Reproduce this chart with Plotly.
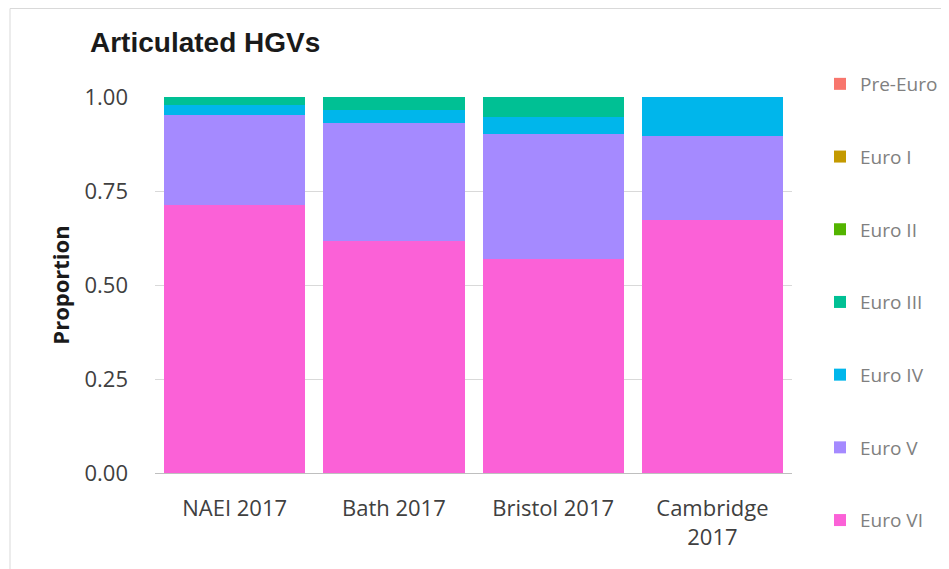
import plotly.graph_objects as go

categories = ["NAEI 2017", "Bath 2017", "Bristol 2017", "Cambridge<br>2017"]
euro_vi = [0.713, 0.617, 0.569, 0.673]
euro_v = [0.239, 0.315, 0.333, 0.224]
euro_iv = [0.027, 0.033, 0.046, 0.103]
euro_iii = [0.021, 0.035, 0.052, 0.0]
euro_ii = [0.0, 0.0, 0.0, 0.0]
euro_i = [0.0, 0.0, 0.0, 0.0]
pre_euro = [0.0, 0.0, 0.0, 0.0]

series = [
    ("Euro VI", euro_vi, "#FB61D7"),
    ("Euro V", euro_v, "#A58AFF"),
    ("Euro IV", euro_iv, "#00B6EB"),
    ("Euro III", euro_iii, "#00C094"),
    ("Euro II", euro_ii, "#53B400"),
    ("Euro I", euro_i, "#C49A00"),
    ("Pre-Euro", pre_euro, "#F8766D"),
]

fig = go.Figure()
n = len(series)
for i, (name, vals, col) in enumerate(series):
    fig.add_trace(go.Bar(x=categories, y=vals, name=name, marker_color=col,
                         marker_line_width=0, legendgroup=name, legendrank=n - i))

# page has an 8px body margin; figure sized to fit
W, H = 941, 561
l, t = 147, 89
pw, ph = 637, 376
r = W - l - pw
b = H - t - ph

fig.update_layout(
    width=W, height=H,
    margin=dict(l=l, r=r, t=t, b=b, autoexpand=False),
    barmode="stack", bargap=0.113,
    paper_bgcolor="white", plot_bgcolor="white",
    font=dict(family="Open Sans, Liberation Sans, sans-serif", color="#404040"),
    title=dict(text="<b>Articulated HGVs</b>", x=82 / W, xref="container", xanchor="left",
               y=1 - 34 / H, yref="container", yanchor="middle",
               font=dict(family="Liberation Sans, Arial, sans-serif", size=28, color="#1a1a1a")),
    legend=dict(x=(812 - l) / pw, xanchor="left", y=(t + ph - 57) / ph, yanchor="top",
                traceorder="grouped", tracegroupgap=45, maxheight=1,
                font=dict(size=19, color="#808080"), itemclick=False),
    showlegend=True,
)
fig.update_yaxes(range=[0, 1], tickvals=[0, 0.25, 0.5, 0.75, 1.0],
                 ticktext=["0.00", "0.25", "0.50", "0.75", "1.00"],
                 gridcolor="#d9d9d9", gridwidth=1, zeroline=False, showline=False,
                 automargin=False,
                 tickfont=dict(size=22, color="#404040"), ticklabelstandoff=26,
                 title=dict(text="<b>Proportion</b>", standoff=8,
                            font=dict(size=22, color="#1a1a1a")))
fig.update_xaxes(showline=True, linecolor="#bfbfbf", linewidth=1, automargin=False,
                 tickfont=dict(size=22, color="#404040"), ticklabelstandoff=16)

fig.add_shape(type="rect", xref="paper", yref="paper",
              x0=(2 - l) / pw, x1=(W + 20 - l) / pw,
              y0=-(b + 20) / ph, y1=(t + ph - 0.5) / ph,
              line=dict(color="#d9d9d9", width=1), fillcolor="rgba(0,0,0,0)", layer="below")

fig.write_html("out.html")
